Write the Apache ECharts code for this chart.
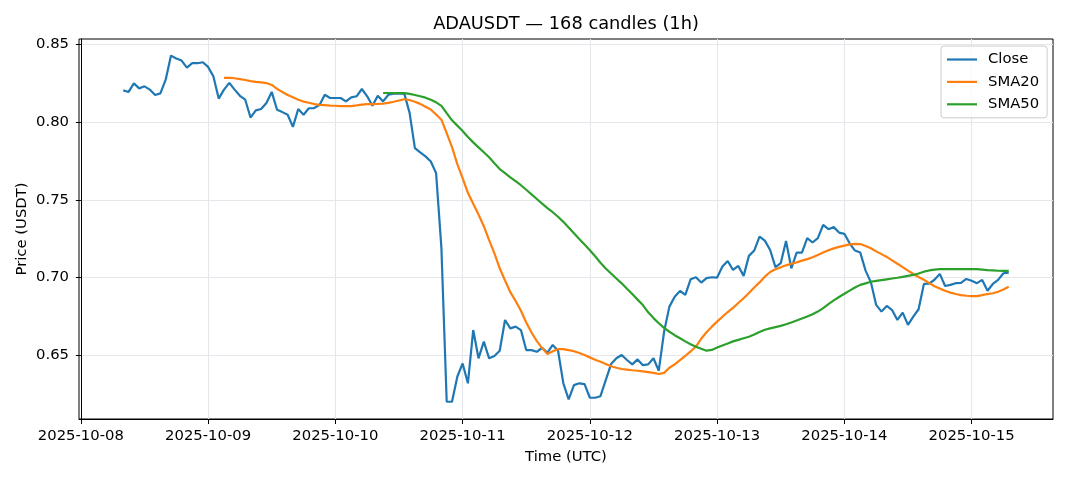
<!DOCTYPE html>
<html>
<head>
<meta charset="utf-8">
<script src="https://cdn.jsdelivr.net/npm/echarts@6/dist/echarts.min.js"></script>
<style>
html,body{margin:0;padding:0;background:#fff;}
#chart{width:1068px;height:481px;}
</style>
</head>
<body>
<div id="chart"></div>
<script>
// Hours are counted from 2025-10-08 00:00 UTC; first candle is at 08:00.
const FIRST_HOUR = 8;
const SMA20_OFFSET = 19;
const SMA50_OFFSET = 49;

const close = [
  0.8205,0.8195,0.8250,0.8218,0.8231,0.8210,0.8175,0.8186,0.8274,0.8429,
  0.8410,0.8397,0.8352,0.8380,0.8380,0.8386,0.8356,0.8295,0.8152,0.8210,
  0.8253,0.8210,0.8170,0.8145,0.8030,0.8076,0.8085,0.8124,0.8195,0.8080,
  0.8065,0.8048,0.7970,0.8085,0.8048,0.8090,0.8091,0.8110,0.8177,0.8156,
  0.8156,0.8156,0.8134,0.8160,0.8167,0.8214,0.8167,0.8106,0.8170,0.8134,
  0.8177,0.8184,0.8184,0.8184,0.8060,0.7833,0.7805,0.7780,0.7747,0.7672,
  0.7190,0.6199,0.6199,0.6360,0.6446,0.6318,0.6661,0.6479,0.6586,0.6479,
  0.6494,0.6528,0.6726,0.6672,0.6683,0.6661,0.6532,0.6532,0.6521,0.6547,
  0.6515,0.6565,0.6528,0.6318,0.6214,0.6306,0.6318,0.6313,0.6225,0.6225,
  0.6235,0.6339,0.6442,0.6479,0.6500,0.6468,0.6440,0.6472,0.6435,0.6440,
  0.6479,0.6399,0.6650,0.6812,0.6876,0.6913,0.6887,0.6988,0.7001,0.6967,
  0.6995,0.7001,0.6999,0.7070,0.7106,0.7048,0.7074,0.7010,0.7139,0.7173,
  0.7263,0.7237,0.7177,0.7066,0.7092,0.7235,0.7059,0.7160,0.7160,0.7253,
  0.7225,0.7253,0.7339,0.7311,0.7324,0.7289,0.7281,0.7220,0.7173,0.7160,
  0.7044,0.6970,0.6823,0.6780,0.6816,0.6790,0.6726,0.6773,0.6694,0.6747,
  0.6795,0.6958,0.6960,0.6985,0.7023,0.6945,0.6952,0.6963,0.6965,0.6990,
  0.6979,0.6963,0.6984,0.6914,0.6958,0.6984,0.7027,0.7031
];

const sma20 = [
  0.8285,0.8285,0.8283,0.8278,0.8272,0.8265,0.8260,0.8257,0.8252,0.8240,
  0.8215,0.8195,0.8175,0.8160,0.8145,0.8133,0.8125,0.8117,0.8112,0.8110,
  0.8107,0.8106,0.8104,0.8103,0.8104,0.8108,0.8113,0.8117,0.8117,0.8118,
  0.8120,0.8125,0.8132,0.8140,0.8148,0.8143,0.8132,0.8118,0.8100,0.8082,
  0.8050,0.8016,0.7930,0.7840,0.7730,0.7640,0.7545,0.7475,0.7405,0.7330,
  0.7240,0.7155,0.7059,0.6980,0.6905,0.6848,0.6785,0.6710,0.6645,0.6590,
  0.6545,0.6506,0.6525,0.6538,0.6538,0.6532,0.6525,0.6513,0.6500,0.6485,
  0.6470,0.6457,0.6443,0.6428,0.6418,0.6410,0.6406,0.6402,0.6399,0.6395,
  0.6390,0.6385,0.6378,0.6385,0.6418,0.6440,0.6467,0.6495,0.6523,0.6555,
  0.6605,0.6647,0.6683,0.6715,0.6747,0.6777,0.6804,0.6835,0.6866,0.6900,
  0.6935,0.6968,0.7005,0.7035,0.7053,0.7065,0.7078,0.7088,0.7097,0.7108,
  0.7118,0.7130,0.7145,0.7160,0.7175,0.7187,0.7197,0.7205,0.7213,0.7216,
  0.7215,0.7203,0.7188,0.7168,0.7150,0.7132,0.7110,0.7088,0.7066,0.7044,
  0.7022,0.7003,0.6985,0.6963,0.6943,0.6928,0.6914,0.6902,0.6893,0.6886,
  0.6882,0.6880,0.6880,0.6886,0.6893,0.6898,0.6908,0.6922,0.6940
];

const sma50 = [
  0.8188,0.8188,0.8188,0.8188,0.8187,0.8182,0.8175,0.8167,0.8158,0.8145,
  0.8128,0.8105,0.8058,0.8012,0.7978,0.7943,0.7905,0.7870,0.7838,0.7806,
  0.7774,0.7735,0.7698,0.7672,0.7645,0.7620,0.7594,0.7565,0.7535,0.7505,
  0.7475,0.7447,0.7420,0.7391,0.7358,0.7322,0.7285,0.7248,0.7212,0.7175,
  0.7136,0.7095,0.7058,0.7025,0.6993,0.6962,0.6927,0.6893,0.6857,0.6822,
  0.6775,0.6738,0.6705,0.6675,0.6650,0.6628,0.6608,0.6588,0.6570,0.6553,
  0.6540,0.6528,0.6533,0.6548,0.6562,0.6575,0.6588,0.6598,0.6608,0.6618,
  0.6632,0.6648,0.6663,0.6672,0.6680,0.6688,0.6698,0.6710,0.6722,0.6735,
  0.6748,0.6763,0.6780,0.6802,0.6828,0.6852,0.6874,0.6895,0.6915,0.6935,
  0.6952,0.6962,0.6972,0.6978,0.6983,0.6988,0.6993,0.6998,0.7004,0.7010,
  0.7016,0.7025,0.7037,0.7045,0.7050,0.7053,0.7053,0.7053,0.7053,0.7053,
  0.7053,0.7053,0.7053,0.7050,0.7047,0.7045,0.7043,0.7042,0.7042
];

const xTickHours = [0,24,48,72,96,120,144,168];
const xTickLabels = ['2025-10-08','2025-10-09','2025-10-10','2025-10-11','2025-10-12','2025-10-13','2025-10-14','2025-10-15'];
const yTicks = [0.65,0.70,0.75,0.80,0.85];

const X_MIN = -0.35, X_MAX = 183.35;
const Y_MIN = 0.6088, Y_MAX = 0.8536;

const toPairs = (arr, off) => arr.map((v, i) => [FIRST_HOUR + off + i, v]);

const chart = echarts.init(document.getElementById('chart'), null, {renderer: 'canvas'});
const FONT = 'DejaVu Sans';
const GRID = {left: 79, right: 15, top: 39, bottom: 62};

const option = {
  animation: false,
  backgroundColor: '#ffffff',
  textStyle: {fontFamily: FONT},
  grid: Object.assign({show: true, borderColor: '#000', borderWidth: 1, backgroundColor: 'transparent'}, GRID),
  xAxis: {
    type: 'value', min: X_MIN, max: X_MAX,
    axisLine: {show: true, lineStyle: {color: '#000', width: 1}},
    axisTick: {show: true, length: 5, inside: false, customValues: xTickHours, lineStyle: {color: '#000', width: 1}},
    axisLabel: {
      customValues: xTickHours, margin: 10, color: '#000', fontFamily: FONT, fontSize: 14.8,
      formatter: v => xTickLabels[xTickHours.indexOf(v)] || ''
    },
    splitLine: {show: true, lineStyle: {color: '#e4e7eb', width: 1.1}}
  },
  yAxis: {
    type: 'value', min: Y_MIN, max: Y_MAX,
    axisLine: {show: true, lineStyle: {color: '#000', width: 1}},
    axisTick: {show: true, length: 5, inside: false, customValues: yTicks, lineStyle: {color: '#000', width: 1}},
    axisLabel: {
      customValues: yTicks, margin: 10, color: '#000', fontFamily: FONT, fontSize: 14.8,
      formatter: v => v.toFixed(2)
    },
    splitLine: {show: true, lineStyle: {color: '#e4e7eb', width: 1.1}}
  },
  legend: {
    show: true, orient: 'vertical', left: 941, top: 46,
    padding: [6, 8, 6, 6], itemGap: 7.4, itemWidth: 30, itemHeight: 2.2,
    icon: 'rect',
    backgroundColor: 'rgba(255,255,255,0.8)', borderColor: '#cccccc', borderWidth: 1, borderRadius: 3,
    textStyle: {color: '#000', fontFamily: FONT, fontSize: 14.8, lineHeight: 15, padding: [0, 0, 0, 6]},
    data: ['Close', 'SMA20', 'SMA50']
  },
  graphic: [
    {type: 'text', left: 'center', top: 0, silent: true,
     style: {text: '', fill: '#000'}},
    {type: 'text', x: 566, y: 24, silent: true,
     style: {text: 'ADAUSDT \u2014 168 candles (1h)', fill: '#000', font: '17.8px "DejaVu Sans"', textAlign: 'center', textVerticalAlign: 'middle'}},
    {type: 'text', x: 566, y: 457, silent: true,
     style: {text: 'Time (UTC)', fill: '#000', font: '14.8px "DejaVu Sans"', textAlign: 'center', textVerticalAlign: 'middle'}},
    {type: 'text', x: 22, y: 229, rotation: Math.PI / 2, silent: true,
     style: {text: 'Price (USDT)', fill: '#000', font: '14.8px "DejaVu Sans"', textAlign: 'center', textVerticalAlign: 'middle'}}
  ],
  series: [
    {name: 'Close', type: 'line', data: toPairs(close, 0), showSymbol: false, symbol: 'none',
     lineStyle: {color: '#1f77b4', width: 2.2}, itemStyle: {color: '#1f77b4'}},
    {name: 'SMA20', type: 'line', data: toPairs(sma20, SMA20_OFFSET), showSymbol: false, symbol: 'none',
     lineStyle: {color: '#ff7f0e', width: 2.2}, itemStyle: {color: '#ff7f0e'}},
    {name: 'SMA50', type: 'line', data: toPairs(sma50, SMA50_OFFSET), showSymbol: false, symbol: 'none',
     lineStyle: {color: '#2ca02c', width: 2.2}, itemStyle: {color: '#2ca02c'}}
  ]
};
chart.setOption(option);
</script>
</body>
</html>
